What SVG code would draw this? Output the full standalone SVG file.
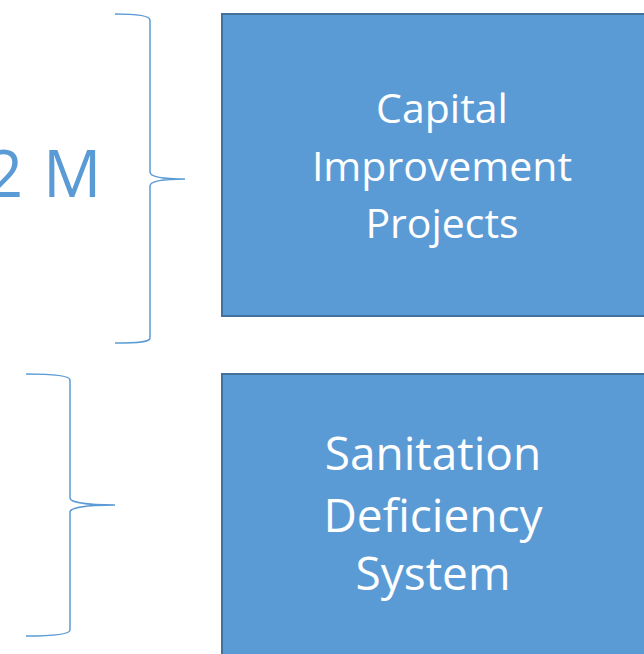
<svg xmlns="http://www.w3.org/2000/svg" width="644" height="654" viewBox="0 0 644 654">
<style>
.box{fill:#5B9BD5;stroke:#41719C;stroke-width:2}
.brace{fill:none;stroke:#5B9BD5;stroke-width:1.5}
.lbl{font-family:"Open Sans","Noto Sans",sans-serif;fill:#FFFFFF;text-anchor:middle}
.big{font-family:"Open Sans","Noto Sans",sans-serif;fill:#5B9BD5}
</style>
<rect width="644" height="654" fill="#FFFFFF"/>
<g id="label-2m">
<text class="big" x="-14" y="197" font-size="65" word-spacing="3">2 M</text>
</g>
<g id="connectors">
<path class="brace" d="M115,14 C140,14 150,16 150,20 L150,172 C150,176 160,179 185,179 C160,179 150,182 150,186 L150,338 C150,342 140,343 115,343"/>
<path class="brace" d="M26,374 C55,374 70,376 70,380 L70,498 C70,502 85,505 115,505 C85,505 70,508 70,512 L70,630 C70,634 55,636 26,636"/>
</g>
<g id="node-capital">
<rect class="box" x="222" y="14" width="440" height="302"/>
<text class="lbl" font-size="41"><tspan x="442" y="123">Capital</tspan><tspan x="442" y="181">Improvement</tspan><tspan x="442" y="238">Projects</tspan></text>
</g>
<g id="node-sanitation">
<rect class="box" x="222" y="374" width="440" height="300"/>
<text class="lbl" font-size="46"><tspan x="433" y="470">Sanitation</tspan><tspan x="433" y="532">Deficiency</tspan><tspan x="433" y="590">System</tspan></text>
</g>
</svg>
